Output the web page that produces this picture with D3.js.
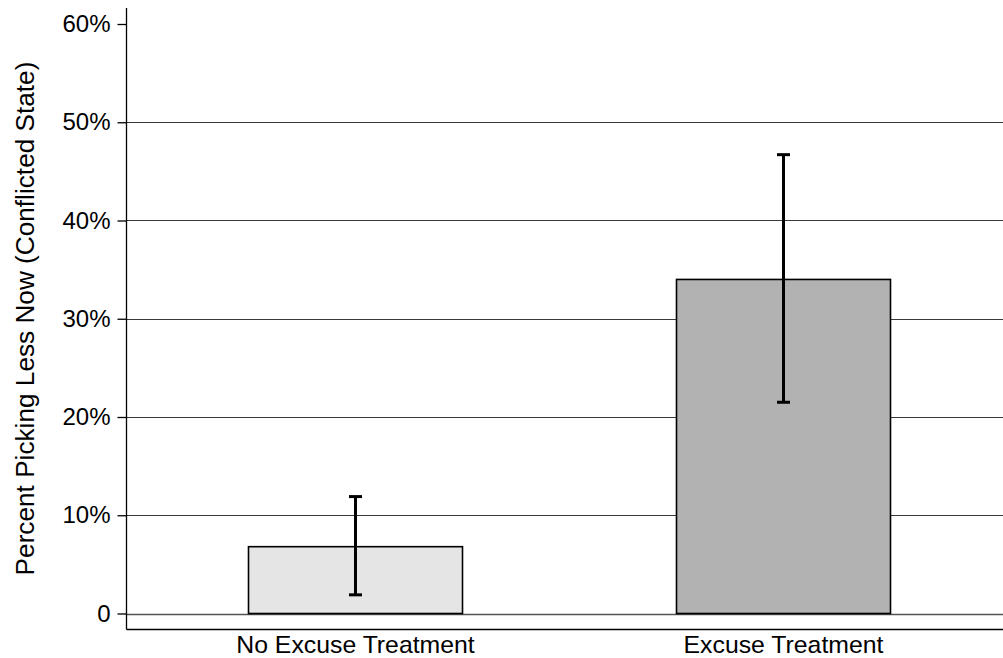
<!DOCTYPE html>
<html>
<head>
<meta charset="utf-8">
<script src="https://cdn.jsdelivr.net/npm/d3@7/dist/d3.min.js"></script>
<style>
  html, body { margin: 0; padding: 0; background: #fff; }
  svg { display: block; font-family: "Liberation Sans", Arial, sans-serif; }
</style>
</head>
<body>
<svg id="chart" width="1003" height="658"></svg>
<script>
// Share of subjects picking "less now" in the conflicted state, with 95% CIs
const categories = ["No Excuse Treatment", "Excuse Treatment"];
const shares     = [0.068, 0.340];
const ciLow      = [0.019, 0.215];
const ciHigh     = [0.119, 0.467];
const barColors  = ["#e5e5e5", "#b2b2b2"];
const yTicks     = [0, 0.1, 0.2, 0.3, 0.4, 0.5, 0.6];
const gridTicks  = [0, 0.1, 0.2, 0.3, 0.4, 0.5];
const yTitle     = "Percent Picking Less Now (Conflicted State)";

const svg = d3.select("#chart");
const W = 1003;
const axisX = 126.5, axisBottom = 629.5, axisTop = 8;

const y = d3.scaleLinear().domain([0, 0.6]).range([613.5, 24]);
const x = d3.scaleBand().domain(categories)
  .range([141.5, 997.5]).paddingInner(0.5).paddingOuter(0.25);

const fmt = v => v === 0 ? "0" : d3.format(".0%")(v);

// horizontal grid lines
svg.append("g").selectAll("line").data(gridTicks).join("line")
  .attr("x1", axisX).attr("x2", W)
  .attr("y1", d => Math.round(y(d)) + 0.5).attr("y2", d => Math.round(y(d)) + 0.5)
  .attr("stroke", d => d === 0 ? "#555" : "#3a3a3a").attr("stroke-width", d => d === 0 ? 1.4 : 1);

// bars
svg.append("g").selectAll("rect").data(categories).join("rect")
  .attr("x", d => x(d)).attr("width", x.bandwidth())
  .attr("y", (d, i) => y(shares[i]))
  .attr("height", (d, i) => y(0) - y(shares[i]))
  .attr("fill", (d, i) => barColors[i])
  .attr("stroke", "#000").attr("stroke-width", 1.6);

// confidence intervals
const ci = svg.append("g").attr("stroke", "#000").attr("stroke-width", 3);
categories.forEach((c, i) => {
  const cx = x(c) + x.bandwidth() / 2;
  ci.append("line").attr("x1", cx).attr("x2", cx)
    .attr("y1", y(ciLow[i])).attr("y2", y(ciHigh[i]));
  [ciLow[i], ciHigh[i]].forEach(v => {
    ci.append("line").attr("x1", cx - 6.5).attr("x2", cx + 6.5)
      .attr("y1", y(v)).attr("y2", y(v));
  });
});

// y axis
const yAxis = svg.append("g").attr("transform", `translate(${axisX},0)`)
  .call(d3.axisLeft(y).tickValues(yTicks).tickFormat(fmt).tickSize(9).tickPadding(7));
yAxis.select(".domain").remove();
yAxis.selectAll(".tick line").attr("stroke", "#000").attr("stroke-width", 1.3);
yAxis.selectAll(".tick text").attr("font-size", 24).attr("fill", "#000")
  .attr("font-family", "Liberation Sans, Arial, sans-serif");
svg.append("line").attr("x1", axisX).attr("x2", axisX)
  .attr("y1", axisTop).attr("y2", axisBottom)
  .attr("stroke", "#000").attr("stroke-width", 1.3);

// x axis
svg.append("line").attr("x1", axisX).attr("x2", W)
  .attr("y1", axisBottom).attr("y2", axisBottom)
  .attr("stroke", "#000").attr("stroke-width", 1.3);
const xAxis = svg.append("g").attr("transform", `translate(0,${axisBottom})`)
  .call(d3.axisBottom(x).tickSize(0).tickPadding(0));
xAxis.select(".domain").remove();
xAxis.selectAll(".tick text").attr("font-size", 24.8).attr("fill", "#000")
  .attr("font-family", "Liberation Sans, Arial, sans-serif")
  .attr("dy", null).attr("y", 23);

// y title
svg.append("text")
  .attr("transform", `translate(34,318.5) rotate(-90)`)
  .attr("text-anchor", "middle")
  .attr("font-size", 26.2).attr("fill", "#000")
  .text(yTitle);
</script>
</body>
</html>
